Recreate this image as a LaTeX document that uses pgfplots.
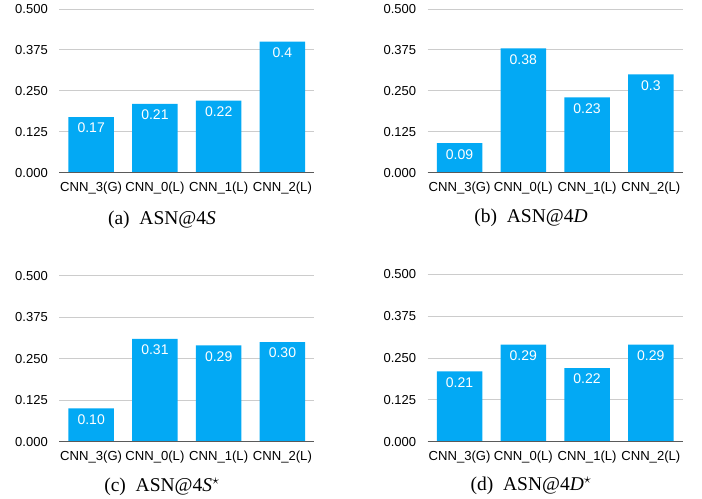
\documentclass[border=0pt]{standalone}
\usepackage{fontspec}
\setmainfont{Liberation Serif}
\newfontfamily\arial{Liberation Sans}
\usepackage{pgfplots}
\pgfplotsset{compat=1.18}

\definecolor{barblue}{RGB}{3,169,244}
\definecolor{gridgray}{RGB}{204,204,204}
\definecolor{basegray}{RGB}{90,90,90}

\pgfplotsset{
  asnbars/.style={
    scale only axis,
    width=255bp,
    anchor=south west,
    xmin=-0.5, xmax=3.5,
    ymin=0, ymax=0.5,
    axis line style={draw=none},
    xtick={0,1,2,3},
    xticklabels={CNN\_3(G),CNN\_0(L),CNN\_1(L),CNN\_2(L)},
    ytick={0,0.125,0.25,0.375,0.5},
    yticklabels={0.000,0.125,0.250,0.375,0.500},
    major tick length=0pt,
    ymajorgrids=true,
    grid style={gridgray, line width=0.9bp},
    yticklabel style={xshift=-8bp, font=\arial\fontsize{13bp}{15bp}\selectfont},
    xticklabel style={yshift=-5.5bp, inner xsep=0pt, font=\arial\fontsize{13.1bp}{15bp}\selectfont},
    /pgf/number format/assume math mode=true,
    ybar,
    bar width=45.5bp,
    bar shift=0pt,
    point meta=explicit symbolic,
    nodes near coords,
    nodes near coords style={anchor=north, yshift=-2.5bp, text=white,
      font=\arial\fontsize{14bp}{16bp}\selectfont},
    clip=false,
  },
}

\begin{document}
\begin{tikzpicture}
\useasboundingbox (0bp,0bp) rectangle (702bp,499bp);

% (a)
\begin{axis}[asnbars, height=163.7bp, at={(59.3bp,326.3bp)}]
  \addplot[fill=barblue, draw=none] coordinates {(0,0.17)[0.17] (1,0.21)[0.21] (2,0.22)[0.22] (3,0.40)[0.4]};
  \draw[basegray, line width=1.3bp] (axis cs:-0.5,0) -- (axis cs:3.5,0);
\end{axis}

% (b)
\begin{axis}[asnbars, height=163.7bp, at={(427.7bp,326.3bp)}]
  \addplot[fill=barblue, draw=none] coordinates {(0,0.09)[0.09] (1,0.38)[0.38] (2,0.23)[0.23] (3,0.30)[0.3]};
  \draw[basegray, line width=1.3bp] (axis cs:-0.5,0) -- (axis cs:3.5,0);
\end{axis}

% (c)
\begin{axis}[asnbars, height=166bp, at={(59.3bp,57.3bp)}]
  \addplot[fill=barblue, draw=none] coordinates {(0,0.10)[0.10] (1,0.31)[0.31] (2,0.29)[0.29] (3,0.30)[0.30]};
  \draw[basegray, line width=1.3bp] (axis cs:-0.5,0) -- (axis cs:3.5,0);
\end{axis}

% (d)
\begin{axis}[asnbars, height=167.5bp, at={(427.7bp,57.3bp)}]
  \addplot[fill=barblue, draw=none] coordinates {(0,0.21)[0.21] (1,0.29)[0.29] (2,0.22)[0.22] (3,0.29)[0.29]};
  \draw[basegray, line width=1.3bp] (axis cs:-0.5,0) -- (axis cs:3.5,0);
\end{axis}

\tikzset{subcap/.style={anchor=base, inner sep=0pt, font=\fontsize{19.5bp}{22bp}\selectfont}}
\node[subcap] at (162bp,274bp) {(a)\hspace{0.5em}ASN@4\textit{S}};
\node[subcap] at (531bp,276bp) {(b)\hspace{0.5em}ASN@4\textit{D}};
\node[subcap] at (162bp,7.3bp) {(c)\hspace{0.5em}ASN@4\textit{S}\textsuperscript{$\star$}};
\node[subcap] at (531bp,8.3bp) {(d)\hspace{0.5em}ASN@4\textit{D}\textsuperscript{$\star$}};
\end{tikzpicture}
\end{document}
